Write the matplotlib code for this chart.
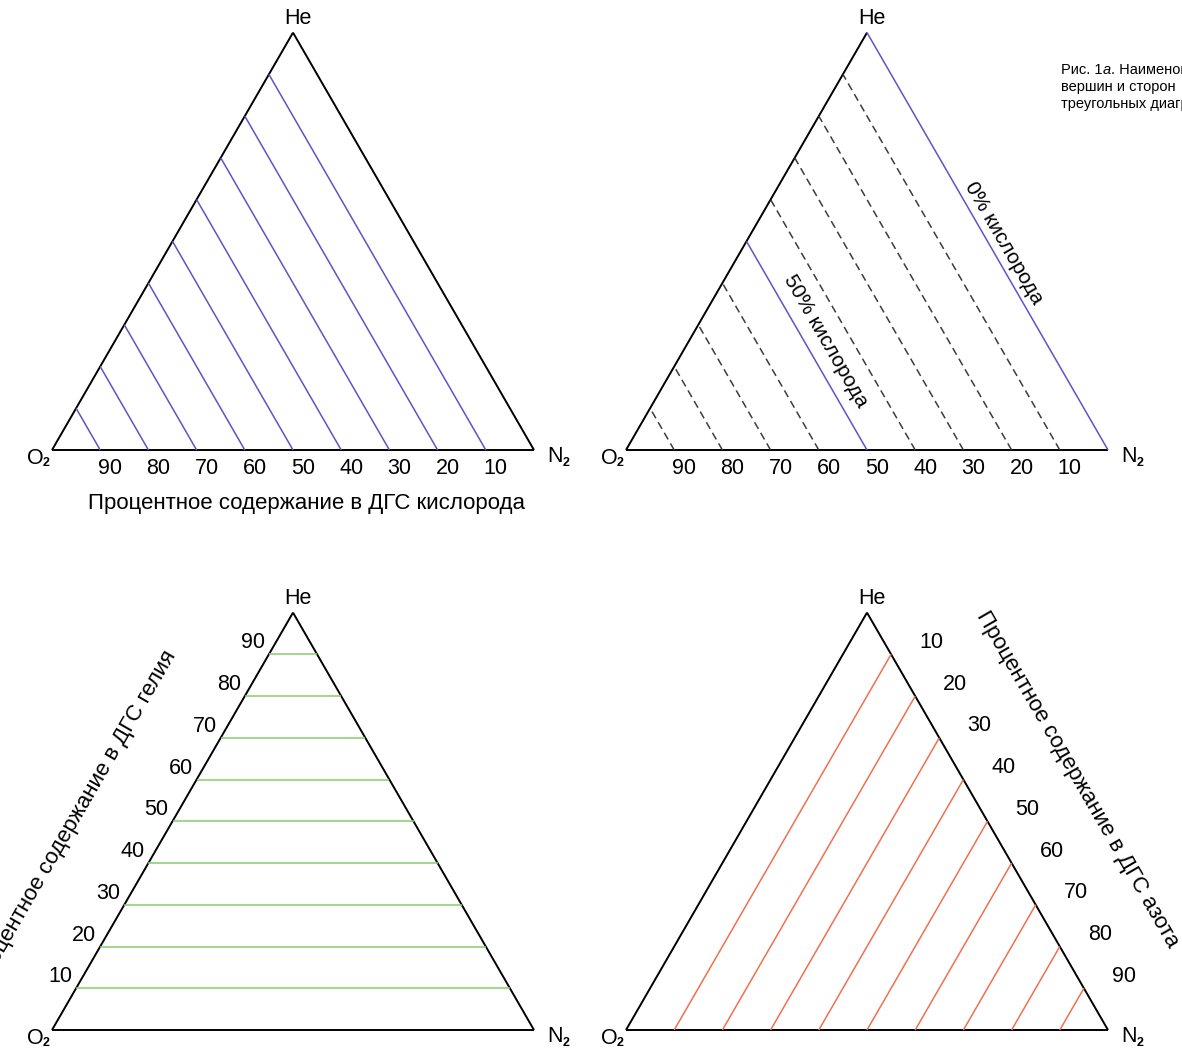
import matplotlib
matplotlib.use("Agg")
import matplotlib.pyplot as plt

plt.rcParams['font.family'] = ['Liberation Sans', 'DejaVu Sans']

# Composition levels (%) drawn inside each ternary diagram
levels = [10, 20, 30, 40, 50, 60, 70, 80, 90]
oxygen_dashed = [10, 20, 30, 40, 60, 70, 80, 90]
oxygen_highlight = [50, 0]
oxygen_highlight_labels = ["50% кислорода", "0% кислорода"]

vertex_names = ["He", "O", "N"]
axis_titles = {
    "oxygen": "Процентное содержание в ДГС кислорода",
    "helium": "Процентное содержание в ДГС гелия",
    "nitrogen": "Процентное содержание в ДГС азота",
}
caption_lines = [["Рис. 1", "а", ". Наименование"],
                 ["вершин и сторон"],
                 ["треугольных диаграмм"]]

W, H = 1182, 1054
SIDE = 482.0
TRI_H = 417.4
LEFT_X, RIGHT_X = 52.0, 626.0
TOP_Y, BOT_Y = 450.0, 1030.0

BLUE = "#6252c8"
GREEN = "#86cc6c"
RED = "#f07050"
DASH = "#3c3c3c"

TICK_FS = 15.5
TITLE_FS = 16
VERTEX_FS = 15.5

fig = plt.figure(figsize=(W / 100, H / 100), dpi=100)
ax = fig.add_axes([0, 0, 1, 1])
ax.set_xlim(0, W)
ax.set_ylim(H, 0)
ax.axis("off")


def tern(x0, yb, o2, he, n2):
    """Convert a (O2, He, N2) composition in % to plot coordinates."""
    x = x0 + SIDE * (n2 + he / 2.0) / 100.0
    y = yb - TRI_H * he / 100.0
    return x, y


def line(x0, yb, a, b, **kw):
    (xa, ya), (xb, yb2) = tern(x0, yb, *a), tern(x0, yb, *b)
    ax.plot([xa, xb], [ya, yb2], solid_capstyle="butt", **kw)


def frame(x0, yb, right_color="black"):
    line(x0, yb, (100, 0, 0), (0, 0, 100), color="black", lw=1.4)
    line(x0, yb, (100, 0, 0), (0, 100, 0), color="black", lw=1.4)
    line(x0, yb, (0, 100, 0), (0, 0, 100), color=right_color,
         lw=1.4 if right_color == "black" else 1.1)
    # vertex names
    hx, hy = tern(x0, yb, 0, 100, 0)
    ax.text(hx + 5, hy - 14, vertex_names[0], fontsize=VERTEX_FS, ha="center", va="center")
    ox, oy = tern(x0, yb, 100, 0, 0)
    ax.text(ox - 17, oy + 8, vertex_names[1], fontsize=VERTEX_FS, ha="center", va="center")
    ax.text(ox - 6, oy + 13, "2", fontsize=9, fontweight="bold", ha="center", va="center")
    nx, ny = tern(x0, yb, 0, 0, 100)
    ax.text(nx + 21, ny + 7, vertex_names[2], fontsize=VERTEX_FS, ha="center", va="center")
    ax.text(nx + 32, ny + 13, "2", fontsize=9, fontweight="bold", ha="center", va="center")


def base_ticks(x0, yb):
    for v in levels:
        bx, by = tern(x0, yb, v, 0, 100 - v)
        ax.text(bx + 10, by + 19, str(v), fontsize=TICK_FS, ha="center", va="center")


# --- Top left: lines of constant oxygen ---
frame(LEFT_X, TOP_Y)
for v in levels:
    line(LEFT_X, TOP_Y, (v, 0, 100 - v), (v, 100 - v, 0), color=BLUE, lw=1.1)
base_ticks(LEFT_X, TOP_Y)
ax.text(307, 503, axis_titles["oxygen"], fontsize=TITLE_FS, ha="center", va="center")

# --- Top right: dashed oxygen levels, highlighted 50% and 0% ---
frame(RIGHT_X, TOP_Y, right_color=BLUE)
for v in oxygen_dashed:
    line(RIGHT_X, TOP_Y, (v, 0, 100 - v), (v, 100 - v, 0), color=DASH, lw=1.1,
         linestyle=(0, (5, 3)))
for v in oxygen_highlight:
    if v > 0:
        line(RIGHT_X, TOP_Y, (v, 0, 100 - v), (v, 100 - v, 0), color=BLUE, lw=1.1)
base_ticks(RIGHT_X, TOP_Y)
label_centers = {50: (826, 341), 0: (1004, 243)}
for v, lab in zip(oxygen_highlight, oxygen_highlight_labels):
    cx, cy = label_centers[v]
    ax.text(cx, cy, lab, fontsize=15, rotation=-60, rotation_mode="anchor",
            ha="center", va="center")

# --- Bottom left: lines of constant helium ---
frame(LEFT_X, BOT_Y)
for v in levels:
    line(LEFT_X, BOT_Y, (100 - v, v, 0), (0, v, 100 - v), color=GREEN, lw=1.1)
    lx, ly = tern(LEFT_X, BOT_Y, 100 - v, v, 0)
    ax.text(lx - 4, ly - 1, str(v), fontsize=TICK_FS, ha="right", va="bottom")
ax.text(75, 819, axis_titles["helium"], fontsize=TITLE_FS, rotation=60,
        rotation_mode="anchor", ha="center", va="center")

# --- Bottom right: lines of constant nitrogen ---
frame(RIGHT_X, BOT_Y)
for v in levels:
    line(RIGHT_X, BOT_Y, (100 - v, 0, v), (0, 100 - v, v), color=RED, lw=1.1)
    rx, ry = tern(RIGHT_X, BOT_Y, 0, 100 - v, v)
    ax.text(rx + 40, ry - 12, str(v), fontsize=TICK_FS, ha="center", va="center")
ax.text(1077, 779, axis_titles["nitrogen"], fontsize=TITLE_FS, rotation=-60,
        rotation_mode="anchor", ha="center", va="center")

# --- Caption (runs off the right edge) ---
fig.canvas.draw()
renderer = fig.canvas.get_renderer()
for i, parts in enumerate(caption_lines):
    y = 70 + 17 * i
    prev = None
    for part in parts:
        style = "italic" if part == "а" else "normal"
        if prev is None:
            xd = 1061
        else:
            ext = prev.get_window_extent(renderer)
            xd = ax.transData.inverted().transform((ext.x1, 0))[0]
        prev = ax.text(xd, y, part, fontsize=10.5, style=style, ha="left", va="center")
        fig.canvas.draw()

fig.savefig("out.png", dpi=100)
